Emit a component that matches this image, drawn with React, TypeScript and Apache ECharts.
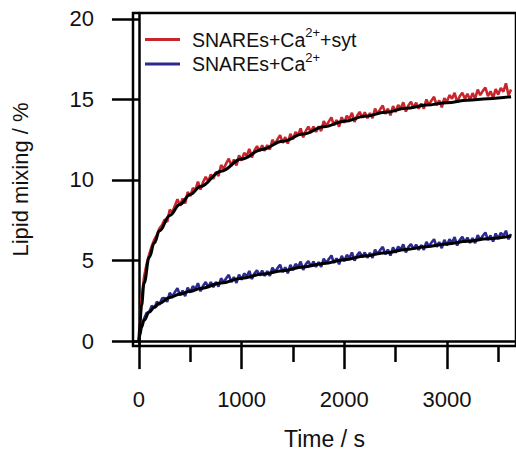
import React, { useEffect, useRef } from "react";
import * as echarts from "echarts";

// Sampling interval of the recorded traces (s)
const SAMPLE_STEP = 25;

// SNAREs + Ca2+ + syt (red trace), one value per SAMPLE_STEP from t = 0
const redTrace = [
  0.1, 2.6, 4.0, 4.8, 5.4, 5.9, 6.3, 6.6, 7.0, 7.2,
  7.55, 7.4, 8.15, 8.0, 8.4, 8.8, 8.4, 8.85, 8.55, 9.25,
  9.0, 9.5, 9.4, 9.9, 9.4, 9.87, 10.2, 9.92, 10.35, 10.07,
  10.5, 10.25, 10.93, 10.68, 11.03, 11.33, 10.88, 11.27, 10.9, 11.53,
  11.2, 11.68, 11.5, 11.93, 11.4, 11.83, 12.1, 11.78, 12.15, 11.81,
  12.17, 11.89, 12.5, 12.21, 12.52, 12.79, 12.3, 12.66, 12.26, 12.87,
  12.52, 12.98, 12.79, 13.2, 12.65, 13.05, 13.31, 12.97, 13.32, 12.98,
  13.33, 13.04, 13.65, 13.34, 13.64, 13.88, 13.38, 13.72, 13.31, 13.9,
  13.55, 13.99, 13.78, 14.17, 13.6, 13.99, 14.23, 13.86, 14.2, 13.83,
  14.16, 13.84, 14.43, 14.11, 14.39, 14.62, 14.1, 14.43, 14.01, 14.59,
  14.22, 14.66, 14.44, 14.82, 14.25, 14.63, 14.85, 14.48, 14.8, 14.43,
  14.75, 14.43, 15.0, 14.67, 14.94, 15.16, 14.63, 14.94, 14.51, 15.08,
  14.85, 15.27, 15.04, 15.41, 14.83, 15.2, 15.42, 15.04, 15.35, 14.97,
  15.39, 15.05, 15.61, 15.27, 15.53, 15.74, 15.2, 15.51, 15.08, 15.64,
  15.3, 15.72, 15.48, 16.0, 15.26, 15.62,
];

// SNAREs + Ca2+ (blue trace), one value per SAMPLE_STEP from t = 0
const blueTrace = [
  0.0, 1.0, 1.4, 1.75, 1.8, 2.2, 2.05, 2.45, 2.25, 2.65,
  2.68, 2.44, 3.0, 2.76, 3.04, 3.28, 2.83, 3.14, 2.79, 3.32,
  3.01, 3.41, 3.23, 3.59, 3.09, 3.44, 3.66, 3.34, 3.66, 3.35,
  3.67, 3.38, 3.9, 3.64, 3.9, 4.11, 3.66, 3.97, 3.61, 4.13,
  3.81, 4.2, 4.01, 4.35, 3.85, 4.19, 4.4, 4.07, 4.37, 4.05,
  4.35, 4.05, 4.56, 4.29, 4.53, 4.74, 4.28, 4.58, 4.21, 4.73,
  4.4, 4.79, 4.59, 4.93, 4.42, 4.76, 4.96, 4.63, 4.93, 4.61,
  4.91, 4.61, 5.12, 4.85, 5.1, 5.31, 4.85, 5.14, 4.77, 5.29,
  4.96, 5.35, 5.16, 5.5, 4.99, 5.32, 5.53, 5.2, 5.5, 5.17,
  5.48, 5.17, 5.68, 5.4, 5.65, 5.85, 5.39, 5.68, 5.31, 5.82,
  5.49, 5.87, 5.68, 6.01, 5.5, 5.83, 6.03, 5.7, 5.99, 5.66,
  5.96, 5.66, 6.16, 5.88, 6.12, 6.32, 5.85, 6.15, 5.77, 6.28,
  5.94, 6.32, 6.12, 6.45, 5.93, 6.27, 6.47, 6.13, 6.42, 6.09,
  6.39, 6.08, 6.58, 6.3, 6.54, 6.74, 6.27, 6.56, 6.18, 6.68,
  6.34, 6.72, 6.52, 6.85, 6.32, 6.65,
];

// Fitted curves (black)
const fitTimes = [0, 10, 25, 50, 100, 150, 200, 300, 400, 500, 600, 800, 1000, 1200, 1400, 1600, 1800, 2000, 2200, 2400, 2600, 2800, 3000, 3200, 3400, 3625];
const redFit = [0, 1.2, 2.2, 3.6, 5.2, 6.1, 6.85, 7.8, 8.5, 9.1, 9.6, 10.55, 11.3, 11.9, 12.4, 12.85, 13.3, 13.65, 13.95, 14.2, 14.45, 14.65, 14.8, 14.95, 15.05, 15.17];
const blueFit = [0, 0.45, 0.85, 1.3, 1.8, 2.1, 2.35, 2.7, 2.92, 3.1, 3.27, 3.6, 3.9, 4.15, 4.37, 4.6, 4.82, 5.05, 5.28, 5.48, 5.68, 5.86, 6.03, 6.2, 6.36, 6.52];

// Axis ticks and labels
const xMajorTicks = [0, 1000, 2000, 3000];
const xMinorTicks = [500, 1500, 2500, 3500];
const yTicks = [0, 5, 10, 15, 20];

const RED_NAME = "SNAREs+Ca2++syt";
const BLUE_NAME = "SNAREs+Ca2+";

const FONT = "'Liberation Sans', Arial, Helvetica, sans-serif";

export default function App() {
  const ref = useRef<HTMLDivElement>(null);

  useEffect(() => {
    document.body.style.margin = "0";
    if (!ref.current) return;
    const chart = echarts.init(ref.current, null, { renderer: "svg" });

    const toPairs = (vals: number[]) => vals.map((v, i) => [i * SAMPLE_STEP, v]);
    const fitPairs = (vals: number[]) => vals.map((v, i) => [fitTimes[i], v]);

    const xMin = -58;
    const xMax = 3673;
    const yMin = -0.305;
    const yMax = 20.366;
    const axisW = 2.5;

    chart.setOption({
      animation: false,
      backgroundColor: "#fff",
      textStyle: { fontFamily: FONT },
      grid: {
        left: 133,
        top: 13,
        right: -5,
        bottom: 103,
        show: true,
        borderColor: "#000",
        borderWidth: axisW,
        backgroundColor: "transparent",
      },
      legend: {
        data: [RED_NAME, BLUE_NAME],
        orient: "vertical",
        left: 145,
        top: 26,
        itemWidth: 35,
        itemHeight: 3,
        itemGap: 1,
        icon: "rect",
        padding: 0,
        selectedMode: false,
        formatter: (name: string) =>
          name === RED_NAME
            ? "{a|SNAREs+Ca}{s|2+}{a|+syt}"
            : "{a|SNAREs+Ca}{s|2+}",
        textStyle: {
          padding: [0, 0, 0, 7],
          rich: {
            a: { fontSize: 19.5, color: "#111", fontFamily: FONT },
            s: { fontSize: 13, color: "#111", fontFamily: FONT, padding: [0, 0, 14, 0] },
          },
        },
      },
      xAxis: [
        {
          type: "value",
          min: xMin,
          max: xMax,
          position: "bottom",
          name: "Time / s",
          nameLocation: "middle",
          nameGap: 81,
          nameTextStyle: { fontSize: 23, color: "#111", fontFamily: FONT },
          axisLine: { show: true, lineStyle: { color: "#000", width: axisW } },
          axisTick: {
            show: true,
            customValues: xMajorTicks,
            length: 28,
            lineStyle: { color: "#000", width: axisW },
          },
          axisLabel: {
            customValues: xMajorTicks,
            formatter: (v: number) => String(v),
            fontSize: 22,
            color: "#111",
            margin: 42,
            fontFamily: FONT,
          },
          splitLine: { show: false },
        },
        {
          type: "value",
          min: xMin,
          max: xMax,
          position: "bottom",
          axisLine: { show: false },
          axisTick: {
            show: true,
            customValues: xMinorTicks,
            length: 16,
            lineStyle: { color: "#000", width: axisW },
          },
          axisLabel: { show: false },
          splitLine: { show: false },
        },
      ],
      yAxis: {
        type: "value",
        min: yMin,
        max: yMax,
        name: "Lipid mixing / %",
        nameLocation: "middle",
        nameGap: 102,
        nameTextStyle: { fontSize: 22, color: "#111", fontFamily: FONT },
        axisLine: { show: true, lineStyle: { color: "#000", width: axisW } },
        axisTick: {
          show: true,
          customValues: yTicks,
          length: 27,
          lineStyle: { color: "#000", width: axisW },
        },
        axisLabel: {
          customValues: yTicks,
          formatter: (v: number) => String(v),
          fontSize: 22,
          color: "#111",
          margin: 39,
          fontFamily: FONT,
        },
        splitLine: { show: false },
      },
      series: [
        {
          name: RED_NAME,
          type: "line",
          data: toPairs(redTrace),
          showSymbol: false,
          color: "#c8262c",
          lineStyle: { color: "#c8262c", width: 2.6 },
          z: 2,
        },
        {
          name: "fit-red",
          type: "line",
          data: fitPairs(redFit),
          showSymbol: false,
          smooth: 0.4,
          smoothMonotone: "x",
          color: "#000",
          lineStyle: { color: "#000", width: 3 },
          z: 4,
        },
        {
          name: BLUE_NAME,
          type: "line",
          data: toPairs(blueTrace),
          showSymbol: false,
          color: "#2b2a8e",
          lineStyle: { color: "#2b2a8e", width: 2.6 },
          z: 2,
        },
        {
          name: "fit-blue",
          type: "line",
          data: fitPairs(blueFit),
          showSymbol: false,
          smooth: 0.4,
          smoothMonotone: "x",
          color: "#000",
          lineStyle: { color: "#000", width: 3 },
          z: 4,
        },
      ],
    });

    return () => chart.dispose();
  }, []);

  return <div ref={ref} style={{ width: 516, height: 455 }} />;
}
